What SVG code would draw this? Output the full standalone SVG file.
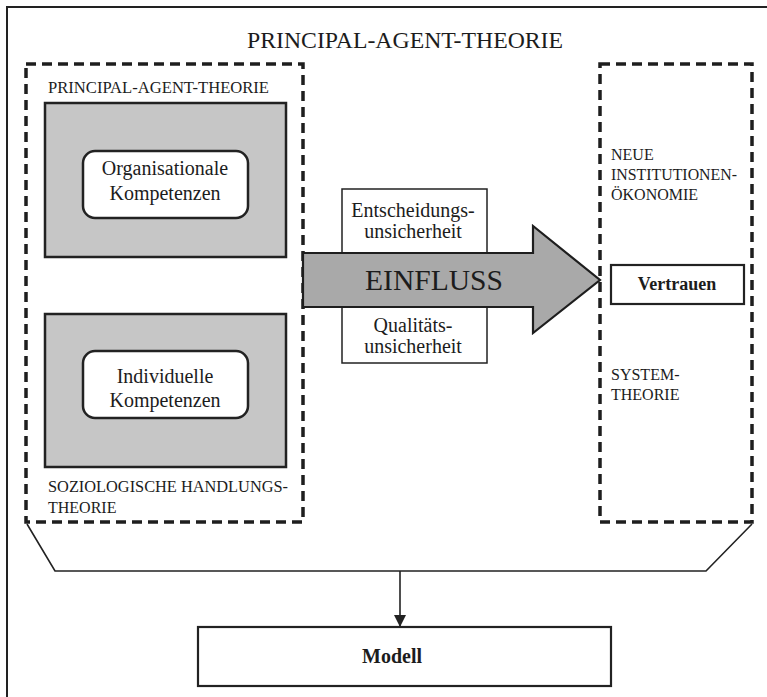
<svg xmlns="http://www.w3.org/2000/svg" width="767" height="697" viewBox="0 0 767 697">
<defs>
<style>
text{font-family:"Liberation Serif","Times New Roman",serif;fill:#1c1c1c}
.dash{fill:none;stroke:#1e1e1e;stroke-width:3.5;stroke-dasharray:10 6}
.gray{fill:#c6c6c6;stroke:#222;stroke-width:2.5}
.round{fill:#fff;stroke:#222;stroke-width:2.5}
.box{fill:#fff;stroke:#222;stroke-width:1.5}
.bbox{fill:#fff;stroke:#222;stroke-width:2.2}
.line{fill:none;stroke:#222;stroke-width:1.6}
.lbl{font-size:16px}
.mid{font-size:20px;text-anchor:middle}
</style>
<marker id="ah" viewBox="0 0 12 12" refX="12" refY="6" markerWidth="12" markerHeight="12" markerUnits="userSpaceOnUse" orient="auto">
<path d="M0,0 L12,6 L0,12 Z" fill="#222"/>
</marker>
</defs>
<rect width="767" height="697" fill="#fff"/>
<g id="frame">
<path d="M7,697 V7 H767" fill="none" stroke="#222" stroke-width="2"/>
<text x="405" y="48" font-size="24" text-anchor="middle" textLength="316" lengthAdjust="spacingAndGlyphs">PRINCIPAL-AGENT-THEORIE</text>
</g>
<g id="left-group">
<rect class="dash" x="26" y="64" width="277" height="458"/>
<text class="lbl" x="48" y="93" textLength="221" lengthAdjust="spacingAndGlyphs">PRINCIPAL-AGENT-THEORIE</text>
<text class="lbl" x="48" y="492" textLength="240" lengthAdjust="spacingAndGlyphs">SOZIOLOGISCHE HANDLUNGS-</text>
<text class="lbl" x="48" y="513">THEORIE</text>
</g>
<g id="org-kompetenzen">
<rect class="gray" x="45" y="103" width="241" height="154"/>
<rect class="round" x="83" y="151" width="165" height="67" rx="12"/>
<text class="mid" x="165" y="175">Organisationale</text>
<text class="mid" x="165" y="200">Kompetenzen</text>
</g>
<g id="ind-kompetenzen">
<rect class="gray" x="45" y="314" width="241" height="153"/>
<rect class="round" x="83" y="351" width="165" height="67" rx="12"/>
<text class="mid" x="165" y="383">Individuelle</text>
<text class="mid" x="165" y="407">Kompetenzen</text>
</g>
<g id="entscheidung">
<rect class="box" x="342" y="189" width="145" height="64"/>
<text class="mid" x="413" y="217">Entscheidungs-</text>
<text class="mid" x="413" y="238">unsicherheit</text>
</g>
<g id="qualitaet">
<rect class="box" x="342" y="307" width="145" height="56"/>
<text class="mid" x="413" y="332">Qualitäts-</text>
<text class="mid" x="413" y="353">unsicherheit</text>
</g>
<g id="einfluss">
<path d="M303,253 H533 V226 L600,280 L533,333 V307 H303 Z" fill="#a9a9a9" stroke="#1e1e1e" stroke-width="2.2" stroke-linejoin="miter"/>
<text x="434" y="290" font-size="30" text-anchor="middle" fill="#2a2a2a" textLength="138" lengthAdjust="spacingAndGlyphs">EINFLUSS</text>
</g>
<g id="right-group">
<rect class="dash" x="600" y="64" width="152" height="458"/>
<text class="lbl" x="611" y="160">NEUE</text>
<text class="lbl" x="611" y="180" textLength="126" lengthAdjust="spacingAndGlyphs">INSTITUTIONEN-</text>
<text class="lbl" x="611" y="200">ÖKONOMIE</text>
<text class="lbl" x="611" y="380">SYSTEM-</text>
<text class="lbl" x="611" y="400">THEORIE</text>
</g>
<g id="vertrauen">
<rect class="bbox" x="611" y="265" width="133" height="39"/>
<text x="677" y="290" font-size="18" font-weight="bold" text-anchor="middle">Vertrauen</text>
</g>
<g id="connectors">
<path class="line" d="M27,524 L55,571 H706 L752,524"/>
<line class="line" x1="400" y1="571" x2="400" y2="627" marker-end="url(#ah)"/>
</g>
<g id="modell">
<rect class="bbox" x="198" y="627" width="413" height="59"/>
<text x="392" y="663" font-size="20" font-weight="bold" text-anchor="middle">Modell</text>
</g>
</svg>
